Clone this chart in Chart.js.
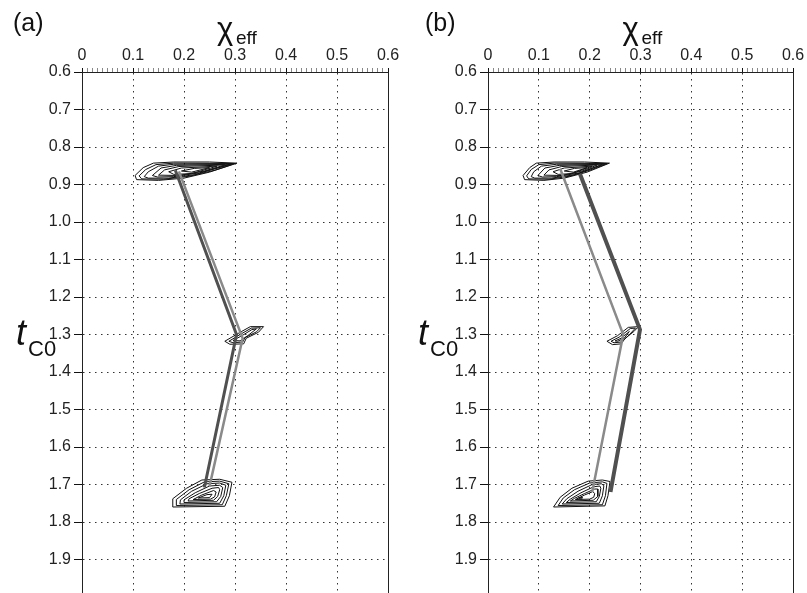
<!DOCTYPE html>
<html>
<head>
<meta charset="utf-8">
<script src="https://cdn.jsdelivr.net/npm/chart.js@4.4.0/dist/chart.umd.min.js"></script>
<style>
html, body { margin: 0; padding: 0; background: #fff; overflow: hidden; width: 807px; height: 593px; }
canvas { position: absolute; top: 0; }
#panelA { left: 0; }
#panelB { left: 406px; }
</style>
</head>
<body>
<canvas id="panelA" width="406" height="597"></canvas>
<canvas id="panelB" width="401" height="597"></canvas>
<script>
// ejes
const xMin = 0, xMax = 0.6, xMinorStep = 0.01;
const yMin = 0.6, yMax = 2.0, yStep = 0.1;
const yLastLabel = 1.9;

// (a) contornos de arriba (t ~ 0.85)
const contA1 = [
  [[0.304,0.843],[0.25,0.840],[0.18,0.840],[0.14,0.843],[0.12,0.855],[0.104,0.876],[0.107,0.887],[0.15,0.889],[0.20,0.883],[0.25,0.867],[0.304,0.843]],
  [[0.30,0.844],[0.18,0.843],[0.145,0.847],[0.125,0.86],[0.112,0.877],[0.117,0.885],[0.16,0.886],[0.21,0.878],[0.26,0.862],[0.30,0.844]],
  [[0.295,0.845],[0.18,0.846],[0.15,0.851],[0.13,0.866],[0.122,0.879],[0.13,0.883],[0.17,0.883],[0.22,0.874],[0.295,0.845]],
  [[0.29,0.846],[0.185,0.849],[0.155,0.856],[0.138,0.876],[0.148,0.88],[0.18,0.879],[0.23,0.869],[0.29,0.846]],
  [[0.28,0.848],[0.19,0.852],[0.162,0.861],[0.15,0.875],[0.19,0.876],[0.24,0.864],[0.28,0.848]],
  [[0.265,0.851],[0.195,0.856],[0.17,0.866],[0.18,0.873],[0.215,0.871],[0.265,0.851]],
  [[0.25,0.855],[0.22,0.857],[0.195,0.864],[0.215,0.867],[0.25,0.855]]
];
// (a) contornos del medio (t ~ 1.3)
const contA2 = [
  [[0.356,1.279],[0.33,1.279],[0.305,1.298],[0.28,1.318],[0.29,1.326],[0.317,1.325],[0.322,1.31],[0.346,1.294],[0.356,1.279]],
  [[0.35,1.282],[0.332,1.283],[0.31,1.30],[0.288,1.318],[0.296,1.322],[0.315,1.32],[0.32,1.308],[0.342,1.293],[0.35,1.282]],
  [[0.342,1.285],[0.333,1.287],[0.315,1.302],[0.296,1.316],[0.31,1.317],[0.325,1.303],[0.342,1.285]]
];
// (a) contornos de abajo (t ~ 1.72)
const contA3 = [
  [[0.178,1.76],[0.178,1.738],[0.205,1.71],[0.235,1.688],[0.27,1.686],[0.294,1.694],[0.289,1.73],[0.28,1.758],[0.178,1.76]],
  [[0.185,1.756],[0.185,1.74],[0.21,1.714],[0.24,1.693],[0.27,1.691],[0.288,1.698],[0.283,1.73],[0.275,1.754],[0.185,1.756]],
  [[0.192,1.752],[0.193,1.741],[0.215,1.718],[0.245,1.698],[0.27,1.696],[0.282,1.702],[0.278,1.73],[0.27,1.75],[0.192,1.752]],
  [[0.20,1.748],[0.20,1.741],[0.222,1.722],[0.25,1.704],[0.27,1.702],[0.276,1.708],[0.272,1.732],[0.264,1.746],[0.20,1.748]],
  [[0.208,1.744],[0.21,1.738],[0.23,1.724],[0.255,1.71],[0.268,1.708],[0.27,1.714],[0.266,1.732],[0.258,1.742],[0.208,1.744]],
  [[0.218,1.74],[0.235,1.728],[0.258,1.716],[0.263,1.72],[0.26,1.733],[0.252,1.739],[0.218,1.74]],
  [[0.228,1.736],[0.245,1.727],[0.255,1.726],[0.25,1.735],[0.228,1.736]]
];
// (a) trayectorias
const pathA1 = [[0.183,0.862],[0.303,1.30],[0.24,1.708]];
const pathA2 = [[0.19,0.865],[0.315,1.31],[0.25,1.705]];

// (b) contornos
const contB1 = [
  [[0.239,0.843],[0.19,0.840],[0.13,0.840],[0.095,0.843],[0.082,0.855],[0.069,0.876],[0.072,0.887],[0.11,0.889],[0.15,0.883],[0.195,0.867],[0.239,0.843]],
  [[0.235,0.844],[0.13,0.843],[0.10,0.847],[0.085,0.86],[0.076,0.877],[0.08,0.885],[0.12,0.886],[0.16,0.878],[0.20,0.862],[0.235,0.844]],
  [[0.23,0.845],[0.135,0.846],[0.105,0.851],[0.09,0.866],[0.085,0.879],[0.092,0.883],[0.125,0.883],[0.17,0.874],[0.23,0.845]],
  [[0.225,0.846],[0.14,0.849],[0.112,0.856],[0.098,0.876],[0.107,0.88],[0.135,0.879],[0.18,0.869],[0.225,0.846]],
  [[0.215,0.848],[0.145,0.852],[0.12,0.861],[0.11,0.875],[0.145,0.876],[0.185,0.864],[0.215,0.848]],
  [[0.205,0.851],[0.15,0.856],[0.128,0.866],[0.138,0.873],[0.165,0.871],[0.205,0.851]],
  [[0.195,0.855],[0.17,0.857],[0.15,0.864],[0.168,0.867],[0.195,0.855]]
];
const contB2 = [
  [[0.234,1.318],[0.255,1.303],[0.276,1.281],[0.296,1.279],[0.287,1.292],[0.27,1.31],[0.262,1.325],[0.245,1.327],[0.234,1.318]],
  [[0.242,1.318],[0.258,1.307],[0.28,1.284],[0.29,1.283],[0.275,1.305],[0.262,1.32],[0.248,1.322],[0.242,1.318]],
  [[0.25,1.317],[0.262,1.31],[0.278,1.292],[0.268,1.31],[0.255,1.318],[0.25,1.317]]
];
const contB3 = [
  [[0.129,1.76],[0.142,1.734],[0.165,1.71],[0.197,1.691],[0.225,1.688],[0.24,1.692],[0.236,1.73],[0.23,1.757],[0.129,1.76]],
  [[0.138,1.756],[0.148,1.736],[0.17,1.714],[0.2,1.696],[0.225,1.693],[0.234,1.697],[0.231,1.73],[0.225,1.754],[0.138,1.756]],
  [[0.146,1.752],[0.155,1.738],[0.177,1.718],[0.205,1.7],[0.223,1.698],[0.228,1.703],[0.225,1.73],[0.219,1.75],[0.146,1.752]],
  [[0.154,1.748],[0.162,1.739],[0.183,1.722],[0.208,1.706],[0.22,1.704],[0.222,1.71],[0.219,1.732],[0.213,1.746],[0.154,1.748]],
  [[0.162,1.744],[0.17,1.737],[0.19,1.724],[0.21,1.712],[0.216,1.712],[0.216,1.732],[0.207,1.742],[0.162,1.744]],
  [[0.172,1.74],[0.19,1.728],[0.206,1.719],[0.21,1.724],[0.208,1.734],[0.2,1.739],[0.172,1.74]],
  [[0.178,1.736],[0.186,1.734],[0.184,1.739],[0.178,1.736]]
];
const pathB1 = [[0.142,0.858],[0.266,1.30],[0.205,1.72]];
const pathB2 = [[0.181,0.872],[0.299,1.287],[0.241,1.72]];

Chart.defaults.font.family = "'Liberation Sans', Arial, sans-serif";
Chart.defaults.font.size = 16;
Chart.defaults.color = '#222';

const isMajor = v => Math.round(v * 100) % 10 === 0;

// textos: letra del panel, chi_eff, t_C0 y borde derecho
const textos = {
  id: 'textos',
  afterDraw(chart, args, opts) {
    const ctx = chart.ctx, a = chart.chartArea;
    ctx.save();
    ctx.strokeStyle = '#222';
    ctx.lineWidth = 1;
    ctx.beginPath();
    ctx.moveTo(a.right + 0.5, a.top);
    ctx.lineTo(a.right + 0.5, a.bottom);
    ctx.stroke();

    ctx.fillStyle = '#111';
    ctx.textBaseline = 'alphabetic';
    ctx.textAlign = 'left';
    ctx.font = "25px 'Liberation Sans', Arial";
    ctx.fillText(opts.letra, opts.letraX, 31);

    const cx = chart.scales.x.getPixelForValue(0.3);
    ctx.font = "31px 'Liberation Sans', Arial";
    ctx.fillText('χ', cx - 18, 39);
    ctx.font = "19px 'Liberation Sans', Arial";
    ctx.fillText('eff', cx + 1, 44);

    ctx.font = "italic 36px 'Liberation Sans', Arial";
    ctx.fillText('t', opts.tX, 345);
    ctx.font = "22px 'Liberation Sans', Arial";
    ctx.fillText('C0', opts.tX + 12, 356);
    ctx.restore();
  }
};

function panel(id, conts, paths, opts) {
  const datasets = [];
  paths.forEach(p => datasets.push({
    data: p.data, borderColor: p.color, borderWidth: p.width,
    showLine: true, pointRadius: 0, tension: 0, order: 0
  }));
  conts.forEach(group => group.forEach(c => datasets.push({
    data: c, borderColor: '#111', borderWidth: 1,
    showLine: true, pointRadius: 0, tension: 0, order: 1
  })));

  return new Chart(document.getElementById(id), {
    type: 'scatter',
    data: { datasets },
    plugins: [textos],
    options: {
      responsive: false,
      animation: false,
      layout: { padding: { left: 0, right: opts.padRight, top: 0, bottom: 0 } },
      plugins: {
        legend: { display: false },
        tooltip: { enabled: false },
        textos: opts
      },
      scales: {
        x: {
          type: 'linear', position: 'top', min: xMin, max: xMax,
          afterFit: s => { s.height = 72; s.paddingLeft = 0; s.paddingRight = 0; },
          ticks: {
            stepSize: xMinorStep, autoSkip: false, maxRotation: 0, padding: 3,
            callback: v => isMajor(v) ? (v === 0 ? '0' : v.toFixed(1)) : ''
          },
          grid: {
            color: c => (c.tick && isMajor(c.tick.value)) ? '#333' : 'rgba(0,0,0,0)',
            tickColor: c => (c.tick && isMajor(c.tick.value)) ? '#111' : '#888',
            tickLength: 4, lineWidth: 1
          },
          border: { display: true, color: '#222', width: 1, dash: [1.5, 4.5] }
        },
        y: {
          type: 'linear', reverse: true, min: yMin, max: yMax,
          afterFit: s => { s.width = 82; s.paddingTop = 0; s.paddingBottom = 0; },
          ticks: {
            stepSize: yStep, autoSkip: false, padding: 3,
            callback: v => v <= yLastLabel + 1e-9 ? v.toFixed(1) : ''
          },
          grid: { color: '#333', tickColor: '#111', tickLength: 8, lineWidth: 1 },
          border: { display: true, color: '#222', width: 1, dash: [1.5, 4.5] }
        }
      }
    }
  });
}

panel('panelA', [contA1, contA2, contA3], [
  { data: pathA2, color: '#8a8a8a', width: 2.5 },
  { data: pathA1, color: '#505050', width: 3 }
], { letra: '(a)', letraX: 13, tX: 16, padRight: 18 });

panel('panelB', [contB1, contB2, contB3], [
  { data: pathB1, color: '#8a8a8a', width: 2.5 },
  { data: pathB2, color: '#505050', width: 4 }
], { letra: '(b)', letraX: 19, tX: 12, padRight: 14 });
</script>
</body>
</html>
